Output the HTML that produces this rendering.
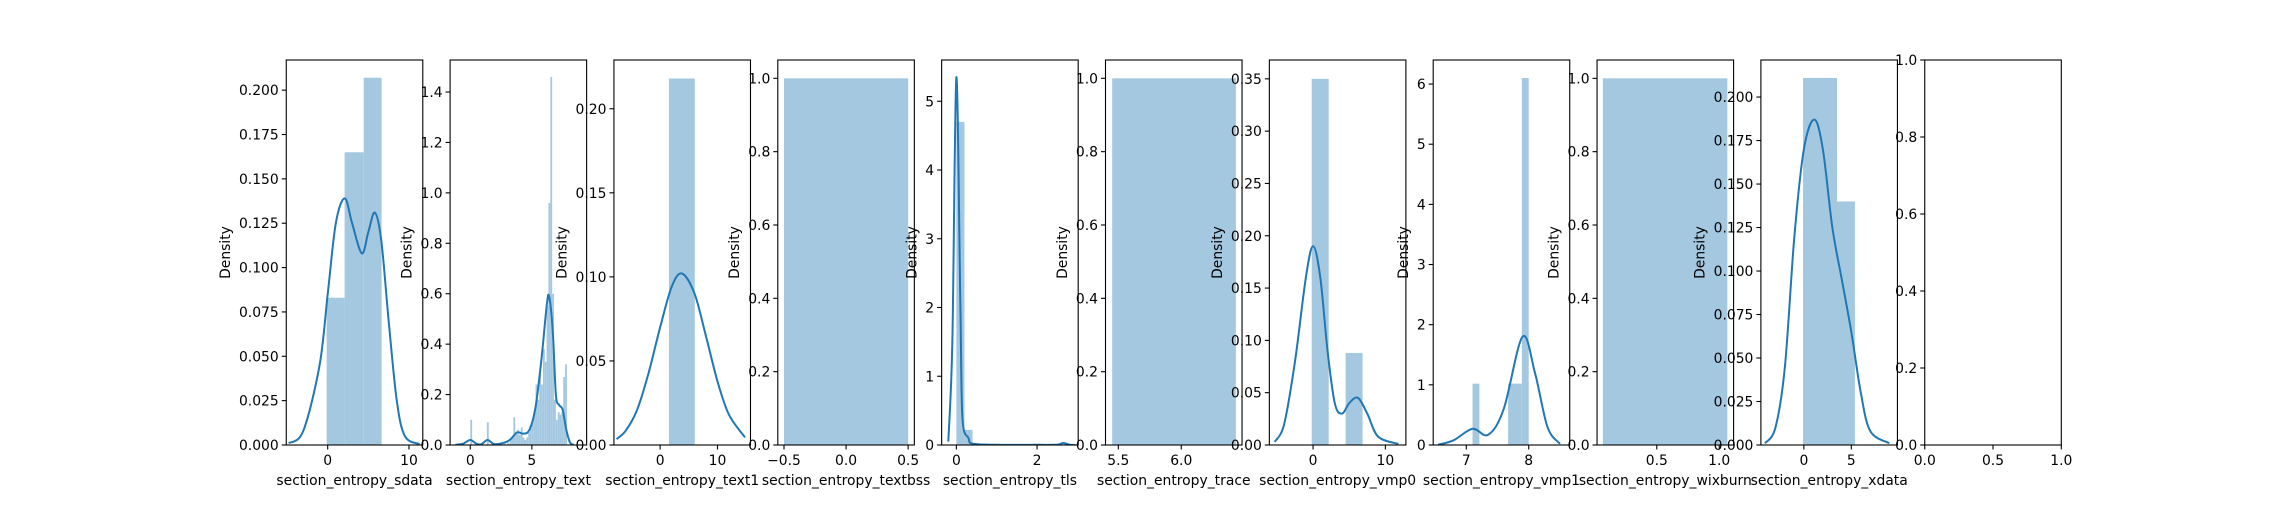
<!DOCTYPE html>
<html><head><meta charset="utf-8"><style>
html,body{margin:0;padding:0;background:#fff;}
svg text{font-family:"DejaVu Sans","Liberation Sans",sans-serif;font-size:13.9px;fill:#000;}
</style></head><body>
<svg id="fig" width="2290" height="500" xmlns="http://www.w3.org/2000/svg"></svg>
<script>
const titles = ["section_entropy_sdata","section_entropy_text","section_entropy_text1","section_entropy_textbss","section_entropy_tls","section_entropy_trace","section_entropy_vmp0","section_entropy_vmp1","section_entropy_wixburn","section_entropy_xdata",""];
const xLims = [[-5.1,11.7],[-1.64,9.45],[-8.05,15.75],[-0.55,0.55],[-0.365,3.02],[5.398,6.483],[-6.05,12.84],[6.47,8.657],[0.0216,1.115],[-4.53,9.86],[0,1]];
const yMaxes = [0.217,1.527,0.229,1.05,5.6,1.05,0.368,6.4,1.05,0.2213,1];
const xTicks = [[0,10],[0,5],[0,10],[-0.5,0,0.5],[0,2],[5.5,6.0],[0,10],[7,8],[0.5,1.0],[0,5],[0,0.5,1]];
const xTickLabels = [["0","10"],["0","5"],["0","10"],["\u22120.5","0.0","0.5"],["0","2"],["5.5","6.0"],["0","10"],["7","8"],["0.5","1.0"],["0","5"],["0.0","0.5","1.0"]];
const yTicks = [
 [0,0.025,0.05,0.075,0.1,0.125,0.15,0.175,0.2],
 [0,0.2,0.4,0.6,0.8,1.0,1.2,1.4],
 [0,0.05,0.1,0.15,0.2],
 [0,0.2,0.4,0.6,0.8,1.0],
 [0,1,2,3,4,5],
 [0,0.2,0.4,0.6,0.8,1.0],
 [0,0.05,0.1,0.15,0.2,0.25,0.3,0.35],
 [0,1,2,3,4,5,6],
 [0,0.2,0.4,0.6,0.8,1.0],
 [0,0.025,0.05,0.075,0.1,0.125,0.15,0.175,0.2],
 [0,0.2,0.4,0.6,0.8,1.0]];
const yDecimals = [3,1,2,1,0,1,2,0,1,3,1];
// bars: [left, right, height]
const bars = [
 [[-0.13,2.08,0.083],[2.08,4.43,0.165],[4.43,6.63,0.207]],
 null,
 [[1.54,6.04,0.218]],
 [[-0.5,0.5,1.0]],
 [[0,0.2,4.7],[0.2,0.4,0.22]],
 [[5.451,6.434,1.0]],
 [[-0.19,2.16,0.35],[4.5,6.85,0.088]],
 [[7.1,7.21,1.02],[7.67,7.89,1.02],[7.89,8.0,6.1]],
 [[0.068,1.065,1.0]],
 [[-0.09,3.49,0.211],[3.49,5.38,0.140]],
 []
];
const textBinStarts = [0.0,1.35,2.3,2.7,3.0,3.2,3.35,3.5,3.65,3.8,3.95,4.1,4.25,4.4,4.55,4.7,4.85,5.0,5.15,5.3,5.45,5.6,5.75,5.9,6.05,6.2,6.35,6.5,6.65,6.8,6.95,7.1,7.25,7.4,7.55,7.7];
const textBinHeights = [0.10,0.09,0.005,0.01,0.01,0.02,0.03,0.11,0.05,0.06,0.04,0.07,0.03,0.02,0.03,0.05,0.08,0.10,0.13,0.24,0.18,0.28,0.24,0.38,0.33,0.55,0.96,1.46,0.60,0.18,0.10,0.13,0.12,0.13,0.27,0.32];
const textBinWidth = 0.15;
const kdeX = [
 [-4.8,-3,-1,0,1,2.1,3,4.2,5,5.8,6.6,7.5,8.5,9.5,11.3],
 [-1.2,-0.6,0,0.5,0.9,1.4,1.9,2.5,3.2,3.8,4.3,4.8,5.3,5.8,6.2,6.4,6.7,6.95,7.2,7.5,7.8,8.1,8.4],
 [-7.6,-6,-4,-2,0,2,3.8,6,8,10,12,14.8],
 null,
 [-0.2,-0.1,0,0.1,0.15,0.3,0.4,1.0,2.0,2.5,2.65,2.8,2.95],
 null,
 [-5.3,-4,-2.5,-1,0,1,2,3,4,5,6.2,7.5,9,11.8],
 [6.55,6.8,7.1,7.35,7.6,7.9,8.1,8.3,8.5],
 null,
 [-4.1,-3,-2,-1,0,1.1,2,3,4,5,6,7,9],
 null
];
const kdeY = [
 [0.001,0.008,0.045,0.085,0.125,0.139,0.125,0.108,0.12,0.131,0.115,0.07,0.025,0.005,0.0005],
 [0.001,0.005,0.02,0.005,0.003,0.02,0.004,0.006,0.02,0.05,0.045,0.06,0.15,0.35,0.55,0.59,0.45,0.2,0.16,0.14,0.06,0.01,0.001],
 [0.0035,0.0085,0.021,0.043,0.070,0.094,0.102,0.090,0.0646,0.0378,0.018,0.0045],
 null,
 [0.05,1.5,5.35,2.0,0.4,0.1,0.02,0.003,0.003,0.005,0.03,0.005,0.0],
 null,
 [0.003,0.02,0.08,0.16,0.19,0.16,0.09,0.04,0.03,0.04,0.045,0.03,0.008,0.001],
 [0.005,0.08,0.27,0.17,0.6,1.8,1.2,0.3,0.02],
 null,
 [0.001,0.01,0.045,0.12,0.17,0.187,0.17,0.125,0.095,0.065,0.03,0.008,0.001],
 null
];

const NS = "http://www.w3.org/2000/svg";
const fig = document.getElementById('fig');
function mk(tag, attrs, parent){const e=document.createElementNS(NS,tag);for(const k in attrs)e.setAttribute(k,attrs[k]);(parent||fig).appendChild(e);return e;}
const LEFT0=286.25, W=136.54, STEP=163.85, TOP=60, BOT=445;
function smoothPath(pts){
 let d="M"+pts[0][0]+","+pts[0][1];
 for(let i=0;i<pts.length-1;i++){
  const p0=pts[Math.max(0,i-1)],p1=pts[i],p2=pts[i+1],p3=pts[Math.min(pts.length-1,i+2)];
  const c1x=p1[0]+(p2[0]-p0[0])/6, c1y=p1[1]+(p2[1]-p0[1])/6;
  const c2x=p2[0]-(p3[0]-p1[0])/6, c2y=p2[1]-(p3[1]-p1[1])/6;
  d+=" C"+c1x+","+c1y+" "+c2x+","+c2y+" "+p2[0]+","+p2[1];
 }
 return d;
}
for(let i=0;i<titles.length;i++){
 const L=LEFT0+i*STEP, R=L+W;
 const [x0,x1]=xLims[i], yMax=yMaxes[i];
 const sx=v=>L+(v-x0)/(x1-x0)*W;
 const sy=v=>BOT-v/yMax*(BOT-TOP);
 const g=mk('g',{});
 
 
 const clipId='clip'+i;
 const cp=mk('clipPath',{id:clipId},g); mk('rect',{x:L,y:TOP,width:W,height:BOT-TOP},cp);
 const plot=mk('g',{'clip-path':'url(#'+clipId+')'},g);
 let barList=bars[i];
 if(i===1){barList=textBinStarts.map((s,k)=>[s,s+textBinWidth,textBinHeights[k]]);}
 barList.forEach((b,k)=>{
  const r=mk('rect',{x:sx(b[0]),y:sy(b[2]),width:Math.max(0.5,sx(b[1])-sx(b[0])),height:BOT-sy(b[2]),fill:'#a5c8e1'},plot);
  
  
 });
 if(kdeX[i]){
  const pts=kdeX[i].map((x,k)=>[sx(x),sy(kdeY[i][k])]);
  const p=mk('path',{d:smoothPath(pts),fill:'none',stroke:'#1f77b4','stroke-width':2},plot);
  
  
 }
 const frame=mk('rect',{x:L,y:TOP,width:W,height:BOT-TOP,fill:'none',stroke:'#000','stroke-width':1.1},g);
 
 
 xTicks[i].forEach((t,k)=>{
  const x=sx(t);
  mk('line',{x1:x,x2:x,y1:BOT,y2:BOT+4.5,stroke:'#000','stroke-width':1.1},g);
  const tx=mk('text',{x:x,y:BOT+20,'text-anchor':'middle'},g);
  tx.textContent=xTickLabels[i][k];
  
  
 });
 let maxW=0;
 yTicks[i].forEach(t=>{
  const y=sy(t);
  mk('line',{x1:L-4.5,x2:L,y1:y,y2:y,stroke:'#000','stroke-width':1.1},g);
  const tx=mk('text',{x:L-7.5,y:y+5,'text-anchor':'end'},g);
  tx.textContent=t.toFixed(yDecimals[i]);
  
  
  maxW=Math.max(maxW,tx.getComputedTextLength());
 });
 if(titles[i]){
  const xl=mk('text',{x:(L+R)/2,y:BOT+40,'text-anchor':'middle'},g);
  xl.textContent=titles[i];
  
  
  const yx=L-7.5-maxW-9, yy=(TOP+BOT)/2;
  const yl=mk('text',{x:yx,y:yy,'text-anchor':'middle',transform:'rotate(-90 '+yx+' '+yy+')'},g);
  yl.textContent='Density';
  
  
 }
}
</script>
</body></html>
